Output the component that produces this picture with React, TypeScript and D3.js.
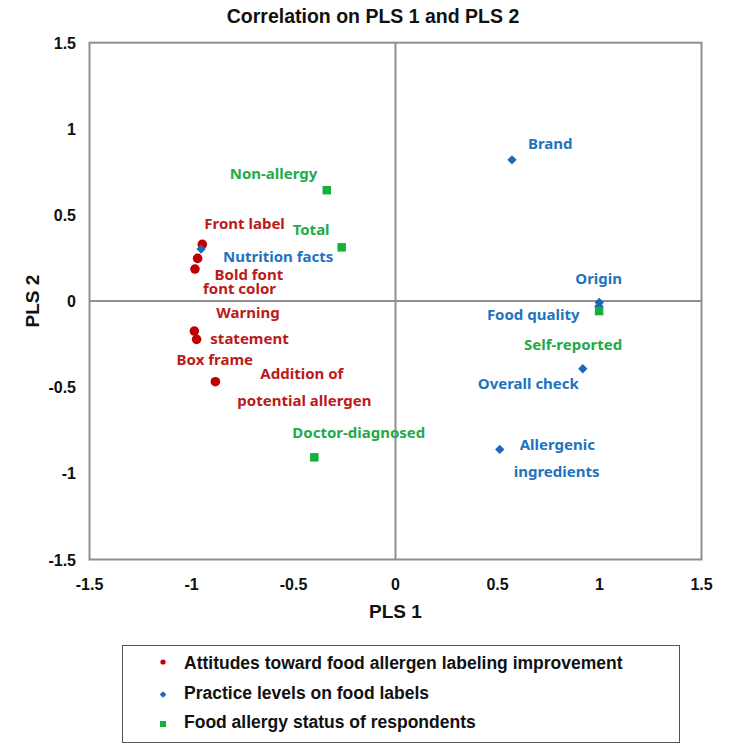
import React from "react";
import * as d3 from "d3";

// ---- data ----
const attitudeNames = ["Front label", "Bold font", "font color", "Warning statement", "Box frame", "Addition of potential allergen"];
const attitudeX = [-0.947, -0.970, -0.983, -0.986, -0.975, -0.883];
const attitudeY = [0.329, 0.248, 0.186, -0.174, -0.222, -0.468];

const practiceNames = ["Nutrition facts", "Brand", "Origin", "Food quality", "Overall check", "Allergenic ingredients"];
const practiceX = [-0.953, 0.571, 0.999, 0.997, 0.918, 0.511];
const practiceY = [0.302, 0.820, -0.008, -0.03, -0.393, -0.861];

const statusNames = ["Non-allergy", "Total", "Self-reported", "Doctor-diagnosed"];
const statusX = [-0.337, -0.264, 0.998, -0.398];
const statusY = [0.644, 0.312, -0.058, -0.907];

const xTicks = [-1.5, -1, -0.5, 0, 0.5, 1, 1.5];
const yTicks = [-1.5, -1, -0.5, 0, 0.5, 1, 1.5];

const legendLabels = [
  "Attitudes toward food allergen labeling improvement",
  "Practice levels on food labels",
  "Food allergy status of respondents",
];

// ---- label layout (pixel offsets from the point, per text line) ----
const attitudeLabelLines: [string, number, number][][] = [
  [["Front label", 2, -15]],
  [["Bold font", 17, 22]],
  [["font color", 8, 25]],
  [["Warning", 22, -13], ["statement", 16, 13]],
  [["Box frame", -20, 26]],
  [["Addition of", 45, -3], ["potential allergen", 22, 24]],
];
const practiceLabelLines: [string, number, number][][] = [
  [["Nutrition facts", 22, 13]],
  [["Brand", 16, -11]],
  [["Origin", -24, -18]],
  [["Food quality", -112, 14]],
  [["Overall check", -105, 20]],
  [["Allergenic", 20, 1], ["ingredients", 14, 28]],
];
const statusLabelLines: [string, number, number][][] = [
  [["Non-allergy", -97, -11]],
  [["Total", -49, -12]],
  [["Self-reported", -75, 39]],
  [["Doctor-diagnosed", -22, -19]],
];

const RED = "#C00000";
const BLUE = "#1F68B8";
const GREEN = "#13B03C";
const RED_T = "#BC1A1A";
const BLUE_T = "#2273BE";
const GREEN_T = "#1FAA4A";

const W = 729;
const H = 746;
const plot = { left: 89.5, right: 701.5, top: 42.7, bottom: 559.5 };

export default function App() {
  const x = d3.scaleLinear().domain([-1.5, 1.5]).range([plot.left, plot.right]);
  const y = d3.scaleLinear().domain([-1.5, 1.5]).range([plot.bottom, plot.top]);
  const axisFont = "'Liberation Sans', Arial, sans-serif";
  const labelFont = "'Noto Sans', sans-serif";
  const grid = "#8F8F8F";

  // diamond = square rotated by 45 degrees
  const diamond = d3.symbol().type(d3.symbolSquare).size(44)() as string;
  const square = d3.symbol().type(d3.symbolSquare).size(72)() as string;
  const legendDiamond = d3.symbol().type(d3.symbolSquare).size(22)() as string;

  const renderLabels = (
    xs: number[],
    ys: number[],
    lines: [string, number, number][][],
    color: string,
    key: string
  ) =>
    lines.map((ls, i) =>
      ls.map(([t, dx, dy], j) => (
        <text
          key={`${key}-${i}-${j}`}
          x={x(xs[i]) + dx}
          y={y(ys[i]) + dy}
          fill={color}
          fontFamily={labelFont}
          fontWeight={700}
          fontSize={15}
        >
          {t}
        </text>
      ))
    );

  return (
    <svg
      width={W}
      height={H}
      style={{ position: "absolute", left: 0, top: 0, background: "#fff" }}
    >
      <rect x={0} y={0} width={W} height={H} fill="#fff" />
      <text
        x={373}
        y={23}
        textAnchor="middle"
        fontFamily={axisFont}
        fontWeight={700}
        fontSize={19.5}
        fill="#111"
      >
        Correlation on PLS 1 and PLS 2
      </text>

      {/* frame and zero lines */}
      <rect
        x={plot.left}
        y={plot.top}
        width={plot.right - plot.left}
        height={plot.bottom - plot.top}
        fill="none"
        stroke={grid}
        strokeWidth={2}
      />
      <line x1={x(0)} x2={x(0)} y1={plot.top} y2={plot.bottom} stroke={grid} strokeWidth={2} />
      <line x1={plot.left} x2={plot.right} y1={y(0)} y2={y(0)} stroke={grid} strokeWidth={2} />

      {/* y tick labels */}
      {yTicks.map((t) => (
        <text
          key={`yt${t}`}
          x={76}
          y={y(t) + 6}
          textAnchor="end"
          fontFamily={axisFont}
          fontWeight={700}
          fontSize={16}
          fill="#111"
        >
          {String(t)}
        </text>
      ))}
      {/* x tick labels */}
      {xTicks.map((t) => (
        <text
          key={`xt${t}`}
          x={x(t)}
          y={590}
          textAnchor="middle"
          fontFamily={axisFont}
          fontWeight={700}
          fontSize={16}
          fill="#111"
        >
          {String(t)}
        </text>
      ))}
      <text
        x={x(0)}
        y={618}
        textAnchor="middle"
        fontFamily={axisFont}
        fontWeight={700}
        fontSize={19}
        fill="#111"
      >
        PLS 1
      </text>
      <text
        transform={`translate(39,${y(0)}) rotate(-90)`}
        textAnchor="middle"
        fontFamily={axisFont}
        fontWeight={700}
        fontSize={19}
        fill="#111"
      >
        PLS 2
      </text>

      {/* labels */}
      {renderLabels(attitudeX, attitudeY, attitudeLabelLines, RED_T, "a")}
      {renderLabels(practiceX, practiceY, practiceLabelLines, BLUE_T, "p")}
      {renderLabels(statusX, statusY, statusLabelLines, GREEN_T, "s")}

      {/* markers */}
      {attitudeX.map((v, i) => (
        <circle key={`ac${i}`} cx={x(v)} cy={y(attitudeY[i])} r={4.8} fill={RED} />
      ))}
      {practiceX.map((v, i) => (
        <path
          key={`pd${i}`}
          d={diamond}
          transform={`translate(${x(v)},${y(practiceY[i])}) rotate(45)`}
          fill={BLUE}
        />
      ))}
      {statusX.map((v, i) => (
        <path key={`sq${i}`} d={square} transform={`translate(${x(v)},${y(statusY[i])})`} fill={GREEN} />
      ))}

      {/* legend */}
      <rect x={122.5} y={645.5} width={557} height={97} fill="#fff" stroke="#555" strokeWidth={1} />
      {legendLabels.map((l, i) => {
        const cy = 663 + i * 29.5;
        return (
          <g key={`lg${i}`}>
            {i === 0 && <circle cx={163} cy={cy - 1} r={2.6} fill={RED} />}
            {i === 1 && (
              <path d={legendDiamond} transform={`translate(163,${cy + 2}) rotate(45)`} fill={BLUE} />
            )}
            {i === 2 && <rect x={160} y={cy - 1} width={6} height={6} fill={GREEN} />}
            <text
              x={184}
              y={cy + 6}
              fontFamily={axisFont}
              fontWeight={700}
              fontSize={17.5}
              fill="#111"
            >
              {l}
            </text>
          </g>
        );
      })}
    </svg>
  );
}
